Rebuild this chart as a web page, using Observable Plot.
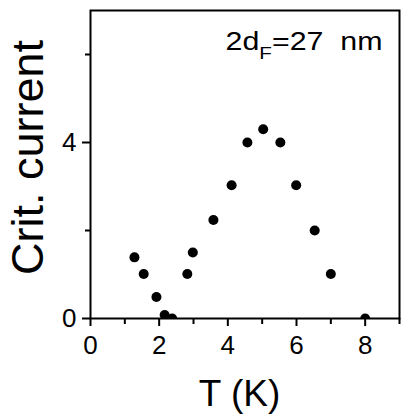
<!DOCTYPE html>
<html><head><meta charset="utf-8">
<script src="https://cdn.jsdelivr.net/npm/d3@7"></script>
<script src="https://cdn.jsdelivr.net/npm/@observablehq/plot@0.6"></script>
<style>body{margin:0;background:#fff}</style>
</head><body><div id="chart"></div>
<script>
const temperatureK = [1.28, 1.55, 1.92, 2.16, 2.38, 2.82, 2.98, 3.58, 4.11, 4.57, 5.03, 5.53, 5.99, 6.53, 7.0, 8.0];
const critCurrent  = [1.39, 1.01, 0.49, 0.08, 0.0, 1.01, 1.5, 2.24, 3.03, 4.0, 4.3, 4.0, 3.03, 2.0, 1.01, 0.0];
const xMajorTicks = [0, 2, 4, 6, 8];
const xMinorTicks = [1, 3, 5, 7, 9];
const yMajorTicks = [0, 4];
const yMinorTicks = [2, 6];
const annotationMain = "2d";
const annotationSub = "F";
const annotationRest = "=27\u00a0\u00a0nm";
const annotation = annotationMain + annotationSub + annotationRest;
const xLabel = "T (K)";
const yLabel = "Crit. current";

const fam = "'Liberation Sans', Arial, Helvetica, sans-serif";
const data = temperatureK.map((t, i) => ({t, c: critCurrent[i]}));

const chart = Plot.plot({
  width: 401, height: 416,
  marginLeft: 90, marginRight: 2, marginTop: 10, marginBottom: 98,
  x: {domain: [0, 9]},
  y: {domain: [0, 7]},
  style: {fontFamily: fam, background: "#fff", color: "#000"},
  marks: [
    Plot.frame({stroke: "#000", strokeWidth: 2}),
    Plot.axisX({ticks: xMajorTicks, tickFormat: d => String(d), tickSize: 8, tickPadding: 9, fontSize: 26, strokeWidth: 2, label: null}),
    Plot.axisX({ticks: xMinorTicks, tickSize: 6, tickFormat: () => "", strokeWidth: 2, label: null}),
    Plot.axisY({ticks: yMajorTicks, tickFormat: d => String(d), tickSize: 8, tickPadding: 6, fontSize: 26, strokeWidth: 2, label: null}),
    Plot.axisY({ticks: yMinorTicks, tickSize: 5, tickFormat: () => "", strokeWidth: 2, label: null}),
    Plot.dot(data, {x: "t", y: "c", r: 5, fill: "#000", stroke: "none", clip: true}),
    Plot.text([annotation], {frameAnchor: "top-right", textAnchor: "end", lineAnchor: "top", dx: -17, dy: 22, fontSize: 25}),
    Plot.text([yLabel], {frameAnchor: "left", textAnchor: "middle", rotate: -90, lineAnchor: "middle", dx: -62, dy: -7, fontSize: 45}),
    Plot.text([xLabel], {frameAnchor: "bottom", textAnchor: "middle", lineAnchor: "top", dx: -5.5, dy: 61, fontSize: 37})
  ]
});

// subscript in annotation
chart.querySelectorAll("text").forEach(t => {
  if (t.textContent === annotation) {
    t.textContent = "";
    const ns = "http://www.w3.org/2000/svg";
    const a = document.createElementNS(ns, "tspan"); a.textContent = annotationMain; t.appendChild(a);
    const b = document.createElementNS(ns, "tspan"); b.textContent = annotationSub;
    b.setAttribute("dy", "9"); b.setAttribute("font-size", "17"); t.appendChild(b);
    const c = document.createElementNS(ns, "tspan"); c.textContent = annotationRest;
    c.setAttribute("dy", "-9"); t.appendChild(c);
    t.setAttribute("textLength", "157");
    t.setAttribute("lengthAdjust", "spacingAndGlyphs");
  }
});
document.getElementById("chart").appendChild(chart);
</script>
</body></html>
